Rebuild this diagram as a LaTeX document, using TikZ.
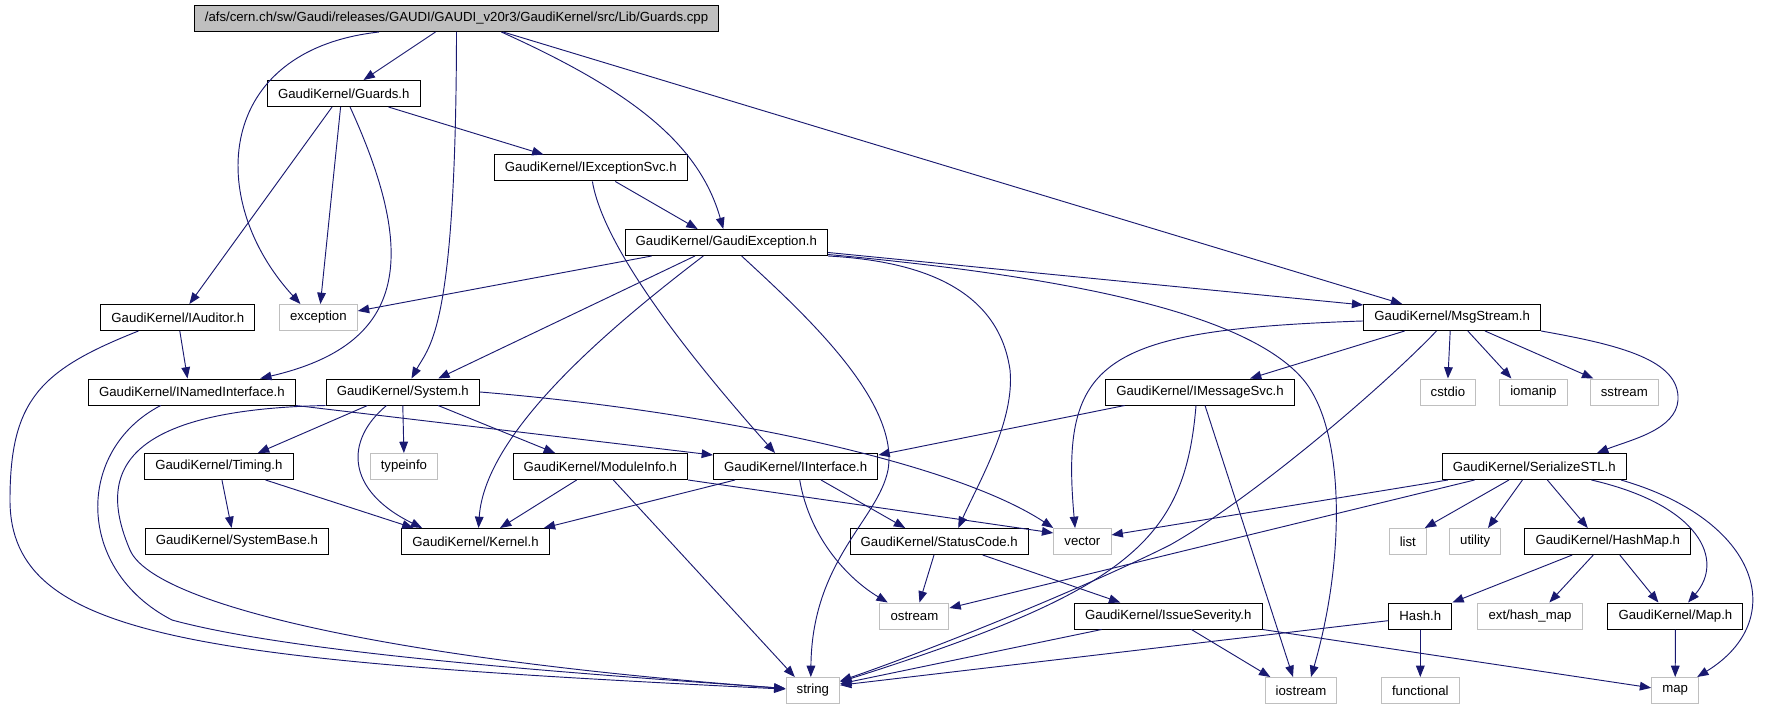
\documentclass[tikz,border=0pt]{standalone}
\usepackage{fontspec}
\setmainfont{Liberation Sans}
\usetikzlibrary{arrows.meta}
\definecolor{edgeblue}{HTML}{191970}
\definecolor{sysgray}{HTML}{BFBFBF}

\begin{document}
\begin{tikzpicture}[x=0.75pt, y=-0.75pt,
  hdr/.style={rectangle, draw=black, line width=0.75pt, minimum height=19.5pt,
              inner xsep=8pt, inner ysep=0pt, font=\fontsize{9.9}{11}\selectfont},
  syshdr/.style={hdr, draw=sysgray},
  srcfile/.style={hdr, fill=sysgray},
  dep/.style={draw=edgeblue, line width=0.7pt, -{Triangle[length=8.5pt,width=6.5pt]}}
]
\useasboundingbox (0,0) rectangle (1780,709);

\node[srcfile] (cpp) at (456.5,18.5) {/afs/cern.ch/sw/Gaudi/releases/GAUDI/GAUDI\_v20r3/GaudiKernel/src/Lib/Guards.cpp};
\node[hdr] (guards) at (343.8,93.5) {GaudiKernel/Guards.h};
\node[hdr] (iexcsvc) at (590.8,168) {GaudiKernel/IExceptionSvc.h};
\node[hdr] (gexc) at (726.3,242.5) {GaudiKernel/GaudiException.h};
\node[hdr] (iauditor) at (177.8,317.5) {GaudiKernel/IAuditor.h};
\node[syshdr] (exc) at (318.4,317.5) {exception};
\node[hdr] (msgstream) at (1452.2,317.5) {GaudiKernel/MsgStream.h};
\node[hdr] (inamed) at (191.9,392) {GaudiKernel/INamedInterface.h};
\node[hdr] (system) at (402.8,392) {GaudiKernel/System.h};
\node[hdr] (imsgsvc) at (1200,392) {GaudiKernel/IMessageSvc.h};
\node[syshdr] (cstdio) at (1447.9,392) {cstdio};
\node[syshdr] (iomanip) at (1533.4,392) {iomanip};
\node[syshdr] (sstream) at (1624.3,392) {sstream};
\node[hdr] (timing) at (218.9,466.5) {GaudiKernel/Timing.h};
\node[syshdr] (typeinfo) at (403.9,466.5) {typeinfo};
\node[hdr] (modinfo) at (600.4,466.5) {GaudiKernel/ModuleInfo.h};
\node[hdr] (iiface) at (795.7,466.5) {GaudiKernel/IInterface.h};
\node[hdr] (serial) at (1534.3,466.5) {GaudiKernel/SerializeSTL.h};
\node[hdr] (sysbase) at (236.9,541.5) {GaudiKernel/SystemBase.h};
\node[hdr] (kernel) at (475.5,541.5) {GaudiKernel/Kernel.h};
\node[hdr] (status) at (939.2,541.5) {GaudiKernel/StatusCode.h};
\node[syshdr] (vector) at (1082.4,541.5) {vector};
\node[syshdr] (list) at (1407.8,541.5) {list};
\node[syshdr] (utility) at (1475.2,541.5) {utility};
\node[hdr] (hashmap) at (1607.8,541.5) {GaudiKernel/HashMap.h};
\node[syshdr] (ostream) at (914.4,616) {ostream};
\node[hdr] (issue) at (1168.3,616) {GaudiKernel/IssueSeverity.h};
\node[hdr] (hash) at (1420.3,616) {Hash.h};
\node[syshdr] (exthash) at (1530,616) {ext/hash\_map};
\node[hdr] (maph) at (1675.4,616) {GaudiKernel/Map.h};
\node[syshdr] (string) at (812.8,690.5) {string};
\node[syshdr] (iostream) at (1301,690.5) {iostream};
\node[syshdr] (functional) at (1420.3,690.5) {functional};
\node[syshdr] (map) at (1675.2,690.5) {map};

\draw[dep] ([xshift=-58pt]cpp.south) .. controls (215,50) and (205,200) .. ([xshift=-13.5pt]exc.north);
\draw[dep] ([xshift=-15.75pt]cpp.south) -- ([xshift=14.8pt]guards.north);
\draw[dep] (cpp.south) .. controls (456,330) and (430,345) .. ([xshift=6.5pt]system.north);
\draw[dep] ([xshift=33.6pt]cpp.south) .. controls (630,90) and (699,143) .. ([xshift=-2.25pt]gexc.north);
\draw[dep] ([xshift=35pt]cpp.south) -- ([xshift=-37.5pt]msgstream.north);

\draw[dep] ([xshift=-8.8pt]guards.south) -- ([xshift=8.7pt]iauditor.north);
\draw[dep] ([xshift=-2.4pt]guards.south) -- ([xshift=1.5pt]exc.north);
\draw[dep] ([xshift=4.7pt]guards.south) .. controls (420,260) and (405,345) .. ([xshift=51.2pt]inamed.north);
\draw[dep] ([xshift=33.5pt]guards.south) -- ([xshift=-35.5pt]iexcsvc.north);

\draw[dep] ([xshift=18.4pt]iexcsvc.south) -- ([xshift=-21.5pt]gexc.north);
\draw[dep] ([xshift=1.2pt]iexcsvc.south) .. controls (604,250) and (694,362) .. ([xshift=-15.5pt]iiface.north);

\draw[dep] ([xshift=-56pt]gexc.south) -- ([yshift=4.9pt]exc.east);
\draw[dep] ([xshift=-23.5pt]gexc.south) -- ([xshift=26.6pt]system.north);
\draw[dep] ([xshift=-17.25pt]gexc.south) .. controls (617,322) and (485,430) .. ([xshift=2.25pt]kernel.north);
\draw[dep] ([xshift=11.5pt]gexc.south) .. controls (800,310) and (900,400) .. (888,470)
  .. controls (878,520) and (812,560) .. ([xshift=-1.5pt]string.north);
\draw[dep] (gexc.south east) .. controls (940,262) and (1000,300) .. (1010,370)
  .. controls (1015,420) and (980,480) .. ([xshift=14.25pt]status.north);
\draw[dep] ([yshift=-7.5pt]gexc.east) -- ([yshift=9.4pt]msgstream.west);
\draw[dep] ([yshift=-9pt]gexc.east) .. controls (1050,275) and (1250,310) .. (1306,383)
  .. controls (1345,435) and (1345,560) .. ([xshift=7.5pt]iostream.north);

\draw[dep] ([xshift=1.5pt]iauditor.south) -- ([xshift=-3.3pt]inamed.north);
\draw[dep] ([xshift=-29.5pt]iauditor.south) .. controls (40,370) and (10,400) .. (10,500)
  .. controls (10,640) and (200,660) .. (string);

\draw[dep] (inamed.south east) -- ([yshift=8.6pt]iiface.west);
\draw[dep] ([xshift=-23.4pt]inamed.south) .. controls (75,450) and (75,570) .. (172,620)
  .. controls (300,655) and (600,675) .. (string);

\draw[dep] ([xshift=-26.5pt]system.south) -- ([xshift=29.25pt]timing.north);
\draw[dep] (system.south) -- (typeinfo.north);
\draw[dep] ([xshift=-12.2pt]system.south) .. controls (345,440) and (345,490) .. ([xshift=-40pt]kernel.north);
\draw[dep] ([xshift=26.5pt]system.south) -- ([xshift=-34pt]modinfo.north);
\draw[dep] (system.east) .. controls (700,410) and (950,460) .. (vector.north west);
\draw[dep] (system.south west) .. controls (110,410) and (100,480) .. (130,550)
  .. controls (154,606) and (400,660) .. (string);

\draw[dep] ([xshift=2.3pt]timing.south) -- ([xshift=-4pt]sysbase.north);
\draw[dep] ([xshift=35pt]timing.south) -- ([xshift=-46.5pt]kernel.north);

\draw[dep] ([xshift=-17.8pt]modinfo.south) -- ([xshift=18.4pt]kernel.north);
\draw[dep] ([xshift=9.7pt]modinfo.south) -- ([xshift=-13.5pt]string.north);
\draw[dep] (modinfo.south east) -- ([yshift=6.4pt]vector.west);

\draw[dep] ([xshift=-45.5pt]iiface.south) -- ([xshift=-4.5pt]kernel.north east);
\draw[dep] ([xshift=19pt]iiface.south) -- ([xshift=-25.5pt]status.north);
\draw[dep] ([xshift=3pt]iiface.south) .. controls (810,540) and (850,580) .. ([xshift=-20pt]ostream.north);

\draw[dep] ([xshift=-3.9pt]status.south) -- ([xshift=3.8pt]ostream.north);
\draw[dep] ([xshift=32.6pt]status.south) -- ([xshift=-36pt]issue.north);

\draw[dep] ([yshift=-2.6pt]msgstream.west) .. controls (1100,330) and (1060,360) .. ([xshift=-5.5pt]vector.north);
\draw[dep] ([xshift=-35.7pt]msgstream.south) -- ([xshift=37.5pt]imsgsvc.north);
\draw[dep] ([xshift=-11.8pt]msgstream.south) .. controls (1380,390) and (1250,500) .. (1170,545)
  .. controls (1080,590) and (930,650) .. (string);
\draw[dep] ([xshift=-1.5pt]msgstream.south) -- (cstdio.north);
\draw[dep] ([xshift=11.7pt]msgstream.south) -- ([xshift=-16.5pt]iomanip.north);
\draw[dep] ([xshift=24.6pt]msgstream.south) -- ([xshift=-23.25pt]sstream.north);
\draw[dep] (msgstream.south east) .. controls (1620,345) and (1680,360) .. (1678,400)
  .. controls (1676,430) and (1630,440) .. ([xshift=47pt]serial.north);

\draw[dep] ([xshift=-56.5pt]imsgsvc.south) -- ([yshift=8.6pt]iiface.east);
\draw[dep] ([xshift=-3pt]imsgsvc.south) .. controls (1185,540) and (1130,590) .. (string);
\draw[dep] ([xshift=3.75pt]imsgsvc.south) -- ([xshift=-6pt]iostream.north);

\draw[dep] ([xshift=-64.8pt]serial.south) -- ([yshift=4.9pt]vector.east);
\draw[dep] ([xshift=-44.8pt]serial.south) -- ([yshift=6pt]ostream.east);
\draw[dep] ([xshift=-19pt]serial.south) -- ([xshift=12.75pt]list.north);
\draw[dep] ([xshift=-8.9pt]serial.south) -- ([xshift=9.6pt]utility.north);
\draw[dep] ([xshift=9.8pt]serial.south) -- ([xshift=-15pt]hashmap.north);
\draw[dep] ([xshift=42.8pt]serial.south) .. controls (1700,505) and (1725,560) .. ([xshift=9.5pt]maph.north);
\draw[dep] ([xshift=65pt]serial.south) .. controls (1760,520) and (1790,620) .. (map);

\draw[dep] ([xshift=-26.7pt]hashmap.south) -- (hash.north east);
\draw[dep] ([xshift=-10.9pt]hashmap.south) -- ([xshift=14.5pt]exthash.north);
\draw[dep] ([xshift=9pt]hashmap.south) -- ([xshift=-12.75pt]maph.north);

\draw[dep] ([yshift=-3.5pt]hash.west) -- ([yshift=4pt]string.east);
\draw[dep] (hash.south) -- (functional.north);
\draw[dep] (maph.south) -- (map.north);

\draw[dep] ([xshift=-50pt]issue.south) -- ([yshift=5pt]string.east);
\draw[dep] ([xshift=17.3pt]issue.south) -- ([xshift=-23pt]iostream.north);
\draw[dep] (issue.south east) -- ([yshift=2pt]map.west);
\end{tikzpicture}
\end{document}
